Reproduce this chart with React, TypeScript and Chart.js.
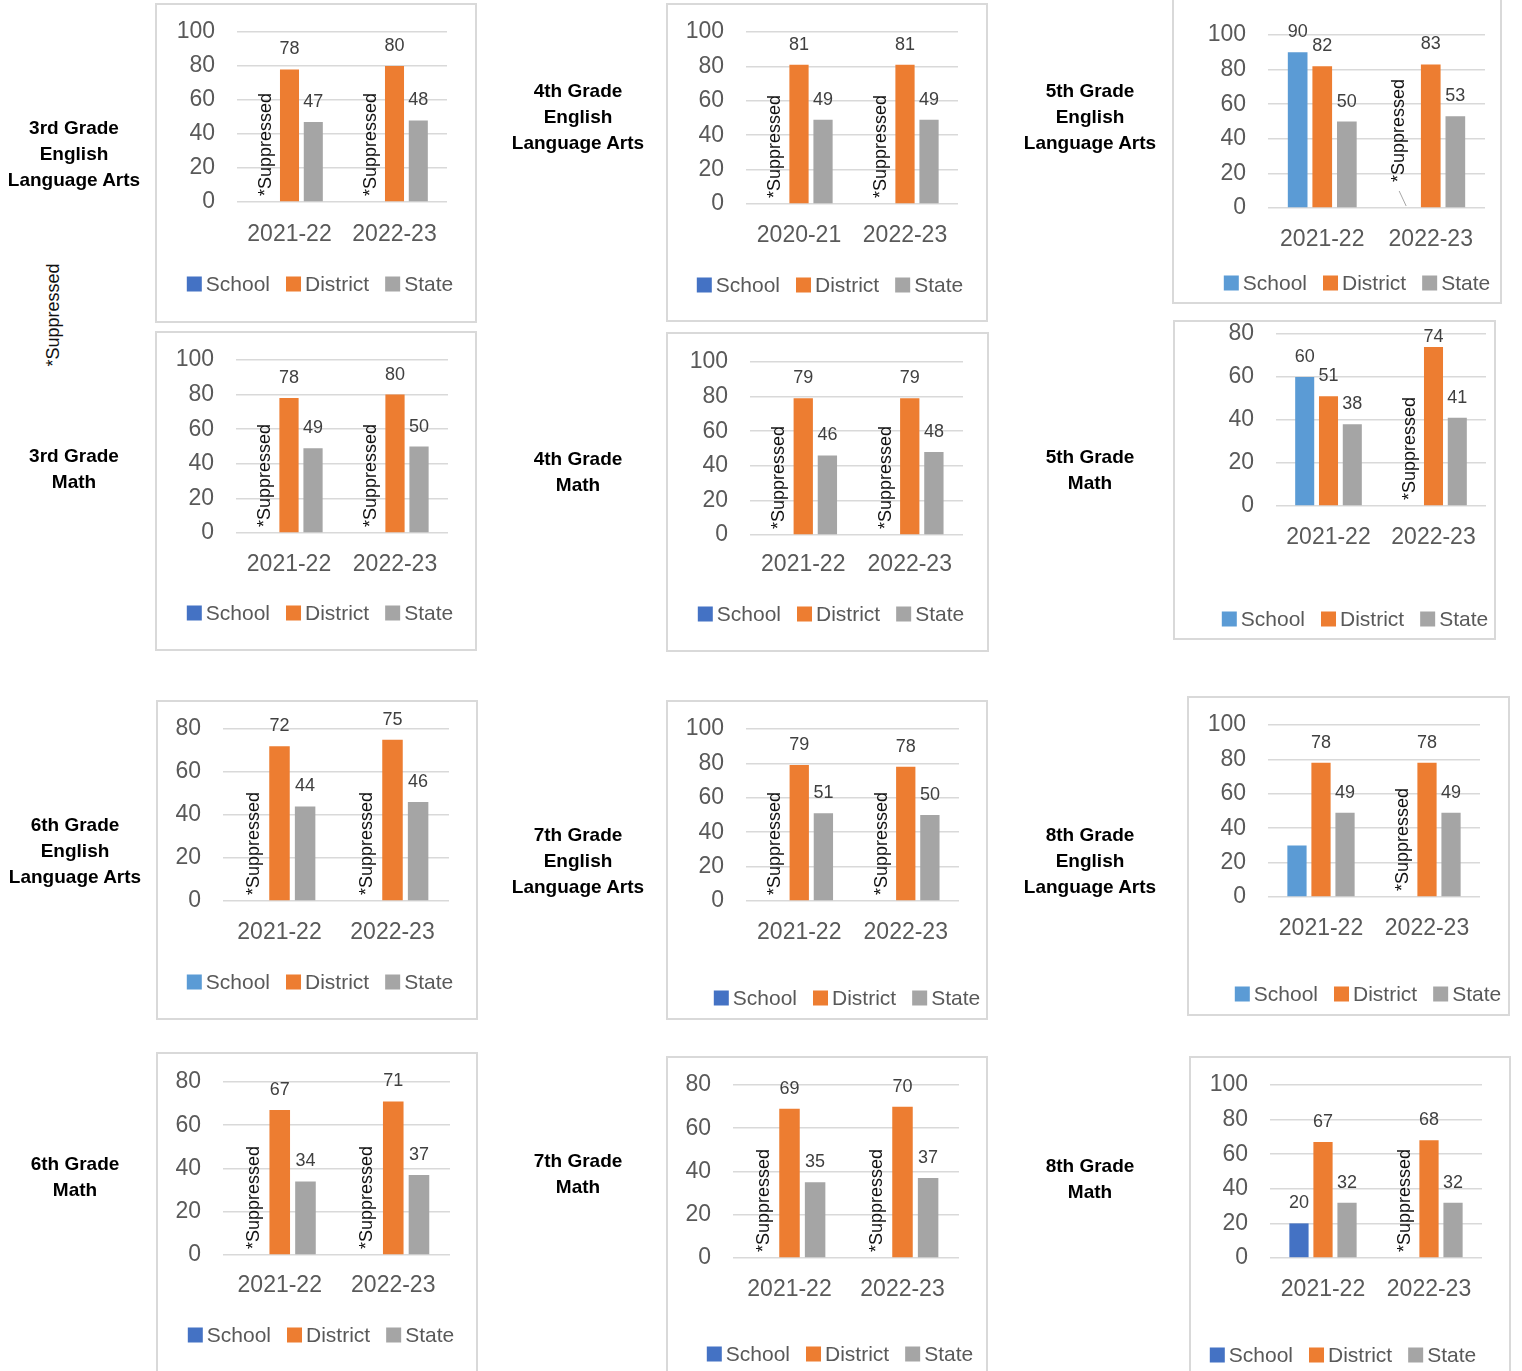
import React, { useEffect, useRef } from "react";
import { Chart, registerables } from "chart.js";

Chart.register(...registerables);

// ---------- DATA ----------
const seriesNames = ["School", "District", "State"];

const panelTitles = [
  ["3rd Grade", "English", "Language Arts"],
  ["4th Grade", "English", "Language Arts"],
  ["5th Grade", "English", "Language Arts"],
  ["3rd Grade", "Math"],
  ["4th Grade", "Math"],
  ["5th Grade", "Math"],
  ["6th Grade", "English", "Language Arts"],
  ["7th Grade", "English", "Language Arts"],
  ["8th Grade", "English", "Language Arts"],
  ["6th Grade", "Math"],
  ["7th Grade", "Math"],
  ["8th Grade", "Math"],
];

const yearLabels = [
  ["2021-22", "2022-23"],
  ["2020-21", "2022-23"],
  ["2021-22", "2022-23"],
  ["2021-22", "2022-23"],
  ["2021-22", "2022-23"],
  ["2021-22", "2022-23"],
  ["2021-22", "2022-23"],
  ["2021-22", "2022-23"],
  ["2021-22", "2022-23"],
  ["2021-22", "2022-23"],
  ["2021-22", "2022-23"],
  ["2021-22", "2022-23"],
];

// null = suppressed
const schoolValues: (number | null)[][] = [
  [null, null],
  [null, null],
  [90, null],
  [null, null],
  [null, null],
  [60, null],
  [null, null],
  [null, null],
  [30, null],
  [null, null],
  [null, null],
  [20, null],
];

const schoolLabelShown = [
  [false, false],
  [false, false],
  [true, false],
  [false, false],
  [false, false],
  [true, false],
  [false, false],
  [false, false],
  [false, false],
  [false, false],
  [false, false],
  [true, false],
];

const districtValues = [
  [78, 80],
  [81, 81],
  [82, 83],
  [78, 80],
  [79, 79],
  [51, 74],
  [72, 75],
  [79, 78],
  [78, 78],
  [67, 71],
  [69, 70],
  [67, 68],
];

const stateValues = [
  [47, 48],
  [49, 49],
  [50, 53],
  [49, 50],
  [46, 48],
  [38, 41],
  [44, 46],
  [51, 50],
  [49, 49],
  [34, 37],
  [35, 37],
  [32, 32],
];

const yAxisMax = [100, 100, 100, 100, 100, 80, 80, 100, 100, 80, 80, 100];
const suppressedText = "*Suppressed";

// ---------- STYLE / LAYOUT ----------
const DARK_BLUE = "#4472C4";
const LIGHT_BLUE = "#5B9BD5";
const ORANGE = "#ED7D31";
const GRAY = "#A5A5A5";
const schoolColors = [
  DARK_BLUE, DARK_BLUE, LIGHT_BLUE, DARK_BLUE, DARK_BLUE, LIGHT_BLUE,
  LIGHT_BLUE, DARK_BLUE, LIGHT_BLUE, DARK_BLUE, DARK_BLUE, DARK_BLUE,
];

const FONT = '"Liberation Sans", Arial, sans-serif';

type Layout = {
  box: number[];
  plot: number[];
  xLabelY: number;
  legend: number[];
  title: number[];
  supShift?: number[];
};

const layouts: Layout[] = [
  { box: [155, 3, 322, 320], plot: [237, 447, 32, 202], xLabelY: 232, legend: [320, 284], title: [74, 128] },
  { box: [666, 3, 322, 319], plot: [746, 958, 32, 204], xLabelY: 233, legend: [830, 285], title: [578, 91] },
  { box: [1172, -2, 330, 306], plot: [1268, 1485, 35, 208], xLabelY: 237, legend: [1357, 283], title: [1090, 91], supShift: [-7, -20] },
  { box: [155, 331, 322, 320], plot: [236, 448, 360, 533], xLabelY: 562, legend: [320, 613], title: [74, 456] },
  { box: [666, 332, 323, 320], plot: [750, 963, 362, 535], xLabelY: 562, legend: [831, 614], title: [578, 459] },
  { box: [1173, 320, 323, 320], plot: [1276, 1486, 334, 506], xLabelY: 535, legend: [1355, 619], title: [1090, 457] },
  { box: [156, 700, 322, 320], plot: [223, 449, 729, 901], xLabelY: 930, legend: [320, 982], title: [75, 825] },
  { box: [666, 700, 322, 320], plot: [746, 959, 729, 901], xLabelY: 930, legend: [847, 998], title: [578, 835] },
  { box: [1187, 696, 323, 320], plot: [1268, 1480, 725, 897], xLabelY: 926, legend: [1368, 994], title: [1090, 835] },
  { box: [156, 1052, 322, 330], plot: [223, 450, 1082, 1255], xLabelY: 1283, legend: [321, 1335], title: [75, 1164] },
  { box: [666, 1056, 322, 330], plot: [733, 959, 1085, 1258], xLabelY: 1287, legend: [840, 1354], title: [578, 1161] },
  { box: [1189, 1056, 322, 330], plot: [1270, 1482, 1085, 1258], xLabelY: 1287, legend: [1343, 1355], title: [1090, 1166] },
];

const TICK_SIZE = 23;
const LABEL_SIZE = 18;
const LEGEND_SIZE = 21;

function Panel({ i }: { i: number }) {
  const ref = useRef<HTMLCanvasElement>(null);
  const L = layouts[i];
  const [bx, by, W, H] = L.box;

  useEffect(() => {
    const plotL = L.plot[0] - bx;
    const plotR = L.plot[1] - bx;
    const plotT = L.plot[2] - by;
    const plotB = L.plot[3] - by;
    const colors = [schoolColors[i], ORANGE, GRAY];

    const overlay = {
      id: "overlay" + i,
      afterDatasetsDraw(chart: any) {
        const ctx = chart.ctx;
        const area = chart.chartArea;
        ctx.save();
        // value labels
        ctx.font = `${LABEL_SIZE}px ${FONT}`;
        ctx.fillStyle = "#404040";
        ctx.textAlign = "center";
        ctx.textBaseline = "alphabetic";
        [0, 1, 2].forEach((d) => {
          const meta = chart.getDatasetMeta(d);
          const vals = chart.data.datasets[d].data;
          meta.data.forEach((el: any, j: number) => {
            const v = vals[j];
            if (v === null || v === undefined) return;
            if (d === 0 && !schoolLabelShown[i][j]) return;
            const yb = Math.max(el.y - 15, 22);
            ctx.fillText(String(v), el.x, yb);
          });
        });
        // suppressed labels
        const m0 = chart.getDatasetMeta(0);
        const m1 = chart.getDatasetMeta(1);
        const m2 = chart.getDatasetMeta(2);
        schoolValues[i].forEach((v, j) => {
          if (v !== null) return;
          let x = m0.data[j] ? m0.data[j].x : NaN;
          if (!isFinite(x)) x = m1.data[j].x - (m2.data[j].x - m1.data[j].x);
          const dx = L.supShift ? L.supShift[0] : 0;
          const dy = L.supShift ? L.supShift[1] : 0;
          const y = area.bottom - 6 + dy;
          if (L.supShift) {
            ctx.strokeStyle = "#a6a6a6";
            ctx.lineWidth = 1;
            ctx.beginPath();
            ctx.moveTo(x + dx, y + 9);
            ctx.lineTo(x, area.bottom - 2);
            ctx.stroke();
          }
          ctx.save();
          ctx.translate(x + dx, y);
          ctx.rotate(-Math.PI / 2);
          ctx.font = `${LABEL_SIZE}px ${FONT}`;
          ctx.fillStyle = "#111111";
          ctx.textAlign = "left";
          ctx.textBaseline = "middle";
          ctx.fillText(suppressedText, 0, 0);
          ctx.restore();
        });
        // legend
        ctx.font = `${LEGEND_SIZE}px ${FONT}`;
        const box = 15, gapBT = 4, gapItems = 16;
        const widths = seriesNames.map((s) => ctx.measureText(s).width);
        const total = widths.reduce((a, w) => a + box + gapBT + w, 0) + gapItems * (seriesNames.length - 1);
        let x = L.legend[0] - bx - total / 2;
        const ly = L.legend[1] - by;
        ctx.textAlign = "left";
        ctx.textBaseline = "middle";
        seriesNames.forEach((s, k) => {
          ctx.fillStyle = colors[k];
          ctx.fillRect(x, ly - box / 2, box, box);
          ctx.fillStyle = "#595959";
          ctx.fillText(s, x + box + gapBT, ly + 1);
          x += box + gapBT + widths[k] + gapItems;
        });
        ctx.restore();
      },
    };

    const chart = new Chart(ref.current as HTMLCanvasElement, {
      type: "bar",
      data: {
        labels: yearLabels[i],
        datasets: [
          { label: seriesNames[0], data: schoolValues[i] as any, backgroundColor: colors[0] },
          { label: seriesNames[1], data: districtValues[i], backgroundColor: colors[1] },
          { label: seriesNames[2], data: stateValues[i], backgroundColor: colors[2] },
        ],
      },
      options: {
        responsive: false,
        animation: false,
        datasets: { bar: { categoryPercentage: 0.68, barPercentage: 0.8 } },
        layout: { padding: { left: 0, top: plotT, right: W - plotR, bottom: 0 } },
        plugins: { legend: { display: false }, tooltip: { enabled: false } },
        scales: {
          x: {
            grid: { display: false },
            border: { display: false },
            ticks: {
              font: { family: FONT, size: TICK_SIZE },
              color: "#595959",
              padding: L.xLabelY - L.plot[3] - TICK_SIZE * 0.6 - 5.5,
              maxRotation: 0,
              autoSkip: false,
            },
            afterFit: (s: any) => {
              s.height = H - plotB;
              s.paddingLeft = 0;
              s.paddingRight = 0;
            },
          },
          y: {
            min: 0,
            max: yAxisMax[i],
            ticks: {
              stepSize: 20,
              font: { family: FONT, size: TICK_SIZE },
              color: "#595959",
              padding: 22,
            },
            grid: { color: "#d9d9d9", lineWidth: 1.6, drawTicks: false },
            border: { display: false },
            afterFit: (s: any) => {
              s.width = plotL;
              s.paddingTop = 0;
              s.paddingBottom = 0;
            },
          },
        },
      },
      plugins: [overlay],
    } as any);
    return () => chart.destroy();
  }, [i]);

  const titleLines = panelTitles[i];
  return (
    <>
      <canvas
        ref={ref}
        width={W}
        height={H}
        style={{ position: "absolute", left: bx, top: by, width: W, height: H }}
      />
      <div
        style={{
          position: "absolute",
          left: bx,
          top: by,
          width: W,
          height: H,
          border: "2px solid #d9d9d9",
          boxSizing: "border-box",
          pointerEvents: "none",
        }}
      />
      <div
        style={{
          position: "absolute",
          left: L.title[0] - 100,
          top: L.title[1] - 13,
          width: 200,
          textAlign: "center",
          fontFamily: FONT,
          fontWeight: "bold",
          fontSize: 19,
          lineHeight: "26px",
          color: "#000",
        }}
      >
        {titleLines.map((t, k) => (
          <div key={k}>{t}</div>
        ))}
      </div>
    </>
  );
}

export default function App() {
  return (
    <div
      style={{
        position: "absolute",
        left: 0,
        top: 0,
        width: 1522,
        height: 1371,
        overflow: "hidden",
        background: "#fff",
      }}
    >
      {layouts.map((_, i) => (
        <Panel key={i} i={i} />
      ))}
      <div
        style={{
          position: "absolute",
          left: 53 - 60,
          top: 315 - 11,
          width: 120,
          height: 22,
          lineHeight: "22px",
          textAlign: "center",
          transform: "rotate(-90deg)",
          fontFamily: FONT,
          fontSize: 18,
          color: "#111",
        }}
      >
        {suppressedText}
      </div>
    </div>
  );
}
